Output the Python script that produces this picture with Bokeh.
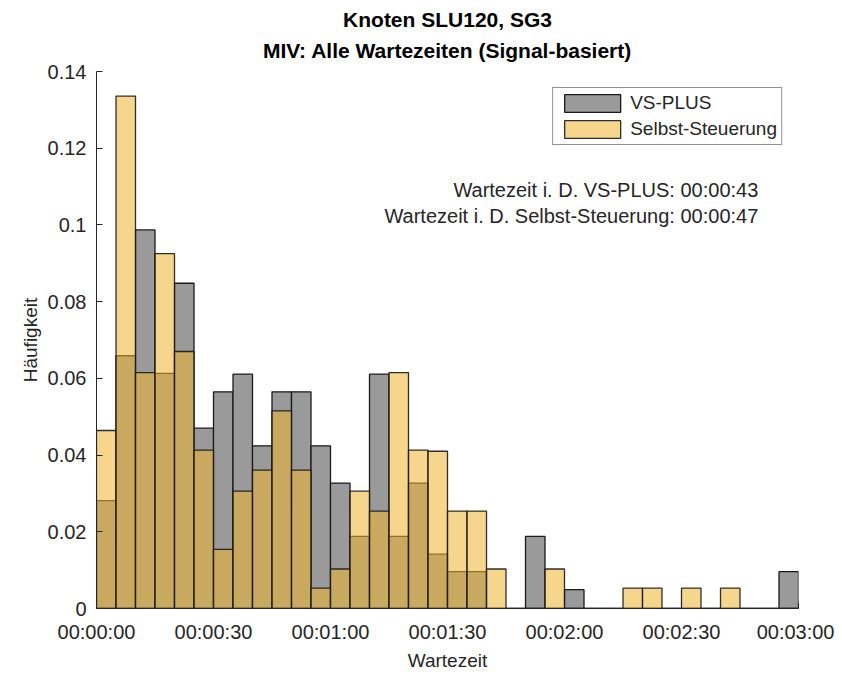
import numpy as np
from bokeh.plotting import figure
from bokeh.models import Legend, LegendItem, Label, Title, FixedTicker, CustomJSTickFormatter, Range1d
from bokeh.embed import file_html
from bokeh.resources import INLINE

# ---- data (relative frequencies per 5 s bin, 0..180 s) ----
bin_width = 5
n_bins = 36
vs_plus = [0.0281, 0.0659, 0.0987, 0.0613, 0.0848, 0.0470, 0.0565, 0.0611, 0.0424, 0.0565,
           0.0565, 0.0424, 0.0327, 0.0188, 0.0611, 0.0188, 0.0327, 0.0142, 0.0096, 0.0096,
           0.0, 0.0, 0.0188, 0.0, 0.0049, 0.0, 0.0, 0.0, 0.0, 0.0,
           0.0, 0.0, 0.0, 0.0, 0.0, 0.0096]
selbst = [0.0464, 0.1336, 0.0615, 0.0925, 0.0670, 0.0413, 0.0154, 0.0306, 0.0361, 0.0515,
          0.0361, 0.0053, 0.0103, 0.0306, 0.0254, 0.0615, 0.0413, 0.0410, 0.0254, 0.0254,
          0.0103, 0.0, 0.0, 0.0103, 0.0, 0.0, 0.0, 0.0053, 0.0053, 0.0,
          0.0053, 0.0, 0.0053, 0.0, 0.0, 0.0]
series_names = ["VS-PLUS", "Selbst-Steuerung"]
mean_wait = ["00:00:43", "00:00:47"]
x_ticks = [0, 30, 60, 90, 120, 150, 180]
x_tick_labels = ["00:00:00", "00:00:30", "00:01:00", "00:01:30", "00:02:00", "00:02:30", "00:03:00"]
y_ticks = [0, 0.02, 0.04, 0.06, 0.08, 0.1, 0.12, 0.14]
title_lines = ["Knoten SLU120, SG3", "MIV: Alle Wartezeiten (Signal-basiert)"]

edges = np.arange(n_bins + 1) * bin_width
lefts = edges[:-1]
rights = edges[1:]

FONT = "Liberation Sans"
DARK = "#262626"

p = figure(width=834, height=675, output_backend="svg", toolbar_location=None,
           x_range=Range1d(0, 180), y_range=Range1d(0, 0.14),
           min_border_left=96, min_border_right=36, min_border_top=71, min_border_bottom=67,
           title=title_lines[0])
p.outline_line_color = None
p.xgrid.grid_line_color = None
p.ygrid.grid_line_color = None
p.background_fill_color = "white"

# two-line bold title: first line is the outer title, second line sits closer to the axes
p.title.align = "center"
p.title.text_font = FONT
p.title.text_font_size = "21px"
p.title.text_font_style = "bold"
p.title.text_color = "black"
p.title.standoff = 0
p.add_layout(Title(text=title_lines[1], align="center", vertical_align="top",
                   text_font=FONT, text_font_size="21px", text_font_style="bold",
                   text_color="black", standoff=16), "above")

r_vs = p.quad(left=lefts, right=rights, bottom=0, top=vs_plus,
              fill_color="#9A9A9A", line_color="#1a1a1a", line_width=1.3)
r_ss = p.quad(left=lefts, right=rights, bottom=0, top=selbst,
              fill_color="#EDB632", fill_alpha=0.56, line_color="#1a1a1a", line_width=1.3,
              line_alpha=0.9)

# axes
for ax in (p.xaxis[0], p.yaxis[0]):
    ax.axis_line_color = DARK
    ax.major_tick_line_color = DARK
    ax.major_tick_in = 6
    ax.major_tick_out = 0
    ax.minor_tick_line_color = None
    ax.major_label_text_font = FONT
    ax.major_label_text_font_size = "20px"
    ax.major_label_text_color = DARK
    ax.axis_label_text_font = FONT
    ax.axis_label_text_font_size = "19px"
    ax.axis_label_text_font_style = "normal"
    ax.axis_label_text_color = DARK

p.xaxis.ticker = FixedTicker(ticks=x_ticks)
p.xaxis.major_label_overrides = {t: l for t, l in zip(x_ticks, x_tick_labels)}
p.xaxis.major_label_standoff = 12
p.xaxis.axis_label = "Wartezeit"
p.xaxis.axis_label_standoff = 4

p.yaxis.ticker = FixedTicker(ticks=y_ticks)
p.yaxis.formatter = CustomJSTickFormatter(code="""
    let s = tick.toFixed(2);
    s = s.replace(/0+$/, '').replace(/\\.$/, '');
    return s;
""")
p.yaxis.major_label_standoff = 10
p.yaxis.axis_label = "Häufigkeit"
p.yaxis.axis_label_standoff = 4

legend = Legend(items=[LegendItem(label=series_names[0], renderers=[r_vs]),
                       LegendItem(label=series_names[1], renderers=[r_ss])],
                location="top_right")
legend.margin = 16
legend.padding = 4
legend.spacing = 4
legend.glyph_width = 70
legend.glyph_height = 22
legend.label_height = 22
legend.label_standoff = 3
legend.label_text_font = FONT
legend.label_text_font_size = "19px"
legend.label_text_color = DARK
legend.border_line_color = DARK
legend.border_line_width = 1
legend.background_fill_alpha = 1
p.add_layout(legend)

for i, (name, t) in enumerate(zip(series_names, mean_wait)):
    p.add_layout(Label(x=169.7, y=0.109 - i * 0.0068, text=f"Wartezeit i. D. {name}: {t}",
                       text_align="right", text_baseline="middle", text_font=FONT,
                       text_font_size="20px", text_color=DARK))

open("out.html", "w").write(file_html(p, INLINE))
